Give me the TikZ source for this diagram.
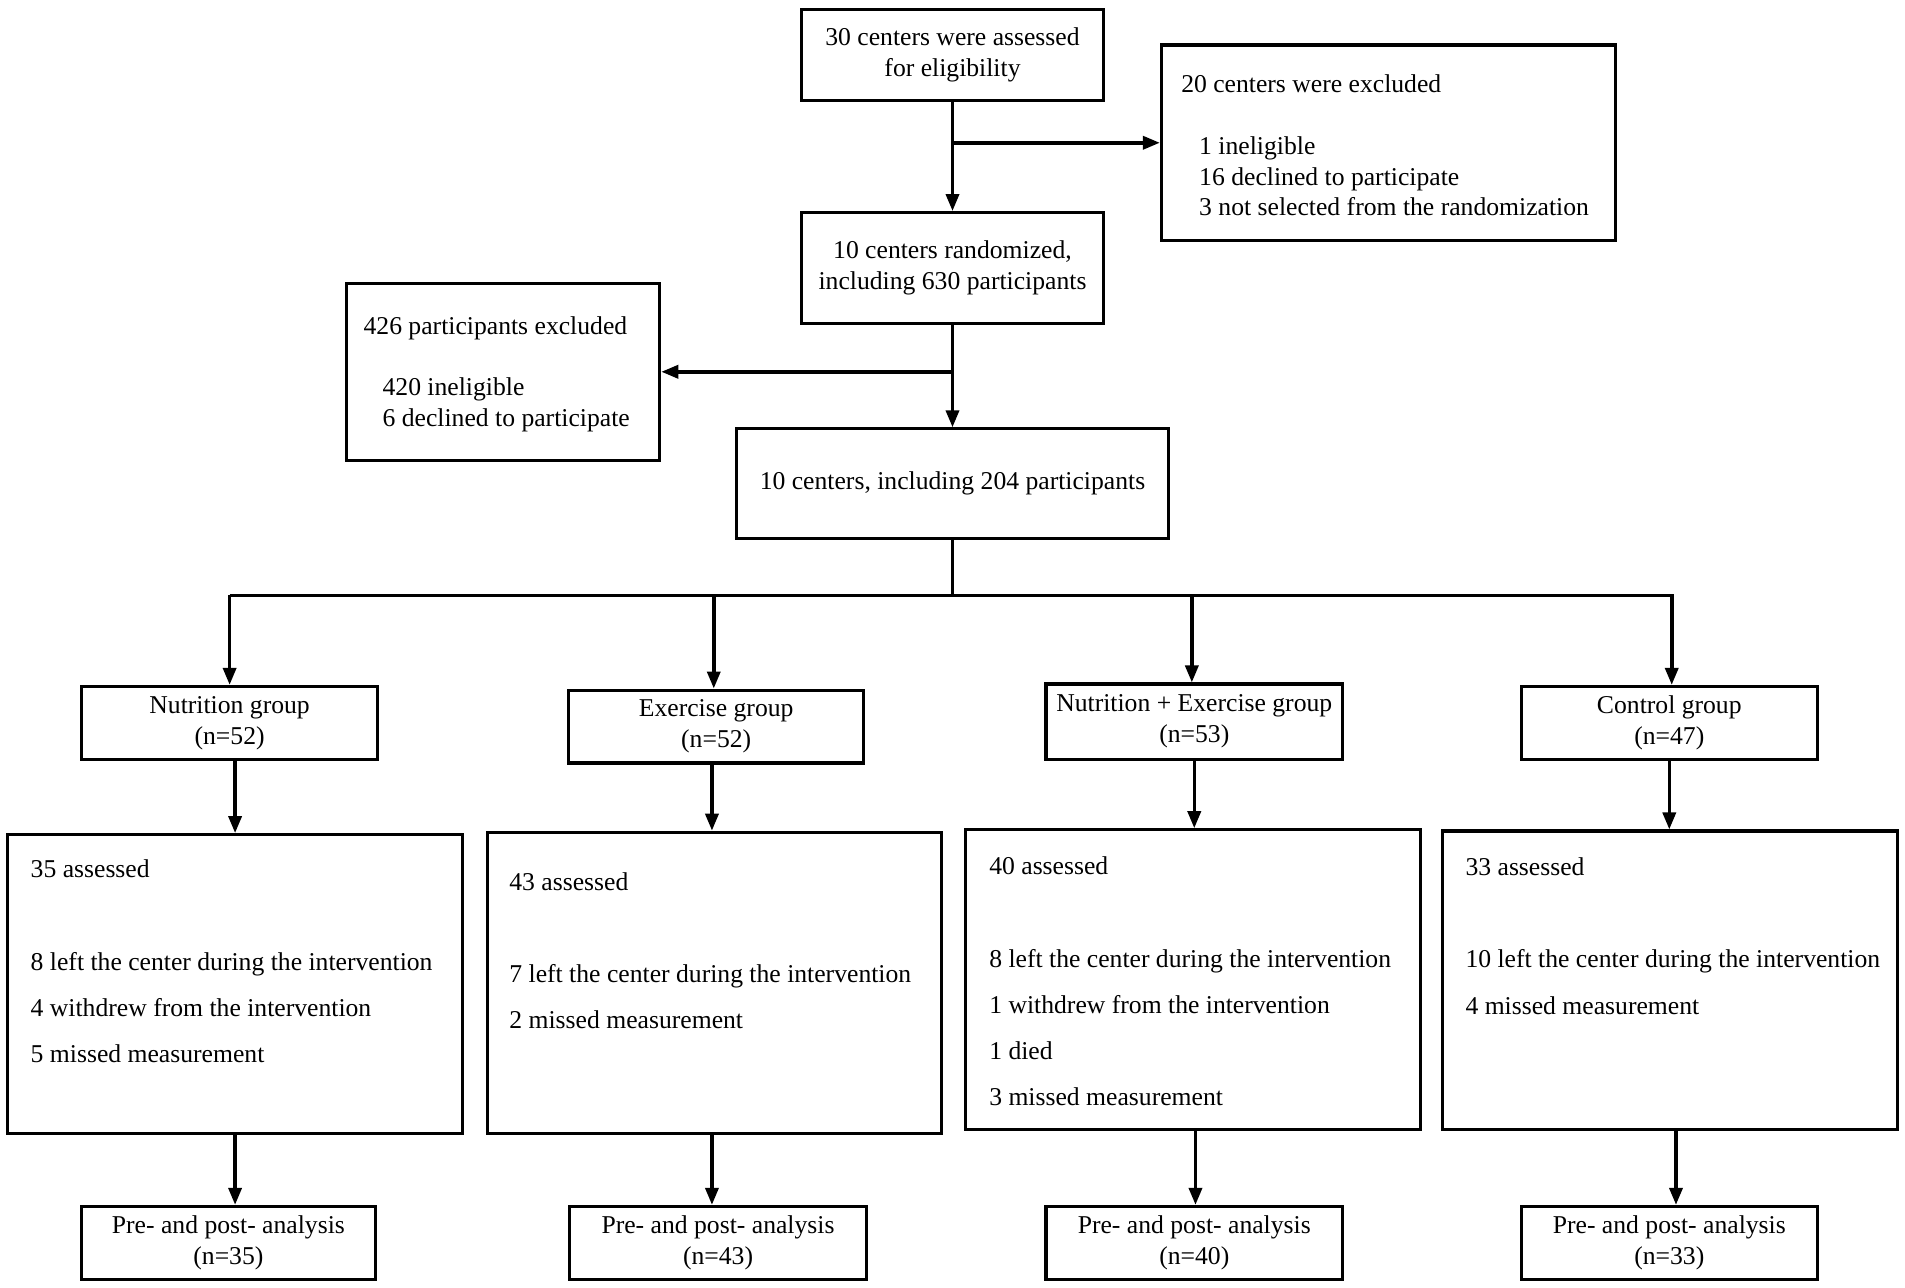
\documentclass[tikz,border=0pt]{standalone}
\usepackage{fontspec}
\setmainfont{Liberation Serif}
\usetikzlibrary{arrows.meta}

\newcommand{\pxu}{0.1215mm}
\newcommand{\txtfont}{\fontsize{7.3}{8.8}\selectfont}

\tikzset{
  box/.style={draw, line width=0.9pt, inner sep=0pt, align=center, font=\txtfont},
  txt/.style={inner sep=0pt, align=left, anchor=north west, font=\txtfont},
  listtxt/.style={txt, font=\fontsize{7.3}{13.1}\selectfont},
  arr/.style={line width=1pt, -{Triangle[length=1.7mm, width=1.3mm]}},
  link/.style={line width=1pt},
}

\begin{document}
\begin{tikzpicture}[x=\pxu, y=-\pxu]
  \useasboundingbox (0,0) rectangle (1568,1060);

  % centers
  \node[box, minimum width=248*\pxu, minimum height=75*\pxu] (assess) at (784,45.5)
    {30 centers were assessed\\for eligibility};
  \node[box, minimum width=374*\pxu, minimum height=161*\pxu] (exclc) at (1143,117.5) {};
  \node[txt] at ([shift={(17,25)}]exclc.north west)
    {20 centers were excluded\\[8.8pt]
     \hspace*{1.8mm}1 ineligible\\
     \hspace*{1.8mm}16 declined to participate\\
     \hspace*{1.8mm}3 not selected from the randomization};
  \node[box, minimum width=248*\pxu, minimum height=91*\pxu] (rand) at (784,220.5)
    {10 centers randomized,\\including 630 participants};

  % participants
  \node[box, minimum width=258*\pxu, minimum height=146*\pxu] (exclp) at (414,306) {};
  \node[txt] at ([shift={(15,28)}]exclp.north west)
    {426 participants excluded\\[8.8pt]
     \hspace*{1.9mm}420 ineligible\\
     \hspace*{1.9mm}6 declined to participate};
  \node[box, minimum width=356*\pxu, minimum height=90*\pxu] (incl) at (784,398)
    {10 centers, including 204 participants};

  % groups
  \node[box, minimum width=244*\pxu, minimum height=60*\pxu] (nut) at (189,595)
    {Nutrition group\\(n=52)};
  \node[box, minimum width=243*\pxu, minimum height=60*\pxu] (exe) at (589.5,598)
    {Exercise group\\(n=52)};
  \node[box, minimum width=244*\pxu, minimum height=62*\pxu] (both) at (983,594)
    {Nutrition + Exercise group\\(n=53)};
  \node[box, minimum width=244*\pxu, minimum height=60*\pxu] (ctrl) at (1374,595)
    {Control group\\(n=47)};

  % follow-up
  \node[box, minimum width=375*\pxu, minimum height=246*\pxu] (dnut) at (193.5,810) {};
  \node[listtxt] at ([shift={(20,21)}]dnut.north west)
    {35 assessed\\[13.4pt]
     8 left the center during the intervention\\
     4 withdrew from the intervention\\
     5 missed measurement};
  \node[box, minimum width=374*\pxu, minimum height=248*\pxu] (dexe) at (588,809) {};
  \node[listtxt] at ([shift={(19,34)}]dexe.north west)
    {43 assessed\\[13.1pt]
     7 left the center during the intervention\\
     2 missed measurement};
  \node[box, minimum width=374*\pxu, minimum height=247*\pxu] (dboth) at (982,806.5) {};
  \node[listtxt] at ([shift={(20,23)}]dboth.north west)
    {40 assessed\\[13.4pt]
     8 left the center during the intervention\\
     1 withdrew from the intervention\\
     1 died\\
     3 missed measurement};
  \node[box, minimum width=375*\pxu, minimum height=246*\pxu] (dctrl) at (1374.5,807) {};
  \node[listtxt] at ([shift={(20,23)}]dctrl.north west)
    {33 assessed\\[13.1pt]
     10 left the center during the intervention\\
     4 missed measurement};

  % analysis
  \node[box, minimum width=242*\pxu, minimum height=60*\pxu] (anut) at (188,1023)
    {Pre- and post- analysis\\(n=35)};
  \node[box, minimum width=244*\pxu, minimum height=60*\pxu] (aexe) at (591,1023)
    {Pre- and post- analysis\\(n=43)};
  \node[box, minimum width=244*\pxu, minimum height=60*\pxu] (aboth) at (983,1023)
    {Pre- and post- analysis\\(n=40)};
  \node[box, minimum width=244*\pxu, minimum height=60*\pxu] (actrl) at (1374,1023)
    {Pre- and post- analysis\\(n=33)};

  % arrows top
  \draw[arr] (assess) -- (rand);
  \draw[arr] (assess.south |- exclc.west) -- (exclc.west);
  \draw[arr] (rand) -- (incl);
  \draw[arr] (rand.south |- exclp.east) -- (exclp.east);

  % split
  \coordinate (split) at (784,490);
  \draw[link] (incl.south) -- (split);
  \draw[link] (nut.north |- split) -- ([xshift=4*\pxu]ctrl.north |- split);
  \draw[arr] (nut.north |- split) -- (nut.north);
  \draw[arr] ([xshift=-2*\pxu]exe.north |- split) -- ([xshift=-2*\pxu]exe.north);
  \draw[arr] ([xshift=-2*\pxu]both.north |- split) -- ([xshift=-2*\pxu]both.north);
  \draw[arr] ([xshift=2*\pxu]ctrl.north |- split) -- ([xshift=2*\pxu]ctrl.north);

  % groups down
  \draw[arr] (dnut.north |- nut.south) -- (dnut.north);
  \draw[arr] ([xshift=-2*\pxu]dexe.north |- exe.south) -- ([xshift=-2*\pxu]dexe.north);
  \draw[arr] (both.south) -- (both.south |- dboth.north);
  \draw[arr] (ctrl.south) -- (ctrl.south |- dctrl.north);

  % analysis down
  \draw[arr] (dnut.south) -- (dnut.south |- anut.north);
  \draw[arr] ([xshift=-2*\pxu]dexe.south) -- ([xshift=-2*\pxu]dexe.south |- aexe.north);
  \draw[arr] ([xshift=2*\pxu]dboth.south) -- ([xshift=2*\pxu]dboth.south |- aboth.north);
  \draw[arr] ([xshift=5*\pxu]dctrl.south) -- ([xshift=5*\pxu]dctrl.south |- actrl.north);

\end{tikzpicture}
\end{document}
